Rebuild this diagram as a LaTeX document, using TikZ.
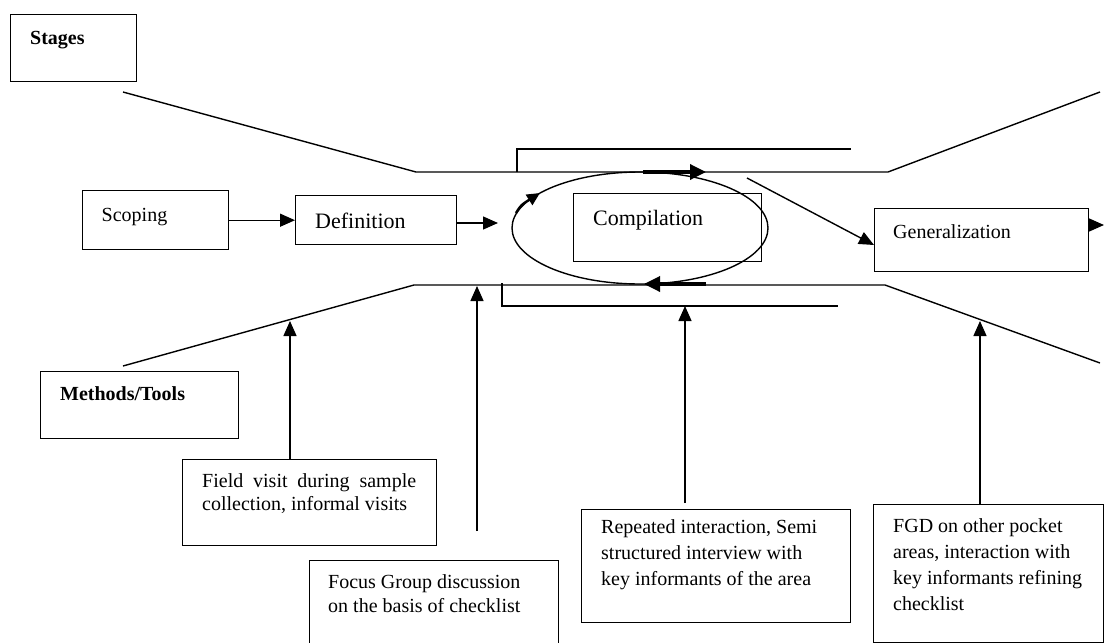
\documentclass[tikz,border=0pt]{standalone}
\usepackage{fontspec}
\setmainfont{Liberation Serif}
\usetikzlibrary{arrows.meta,shapes.geometric}
\begin{document}
\begin{tikzpicture}[x=1pt,y=-1pt,
  box/.style={draw, line width=1.4pt, inner sep=0pt, anchor=north west},
  lbl/.style={anchor=base west, inner sep=0pt, font=\fontsize{20}{24}\selectfont},
  biglbl/.style={anchor=base west, inner sep=0pt, font=\fontsize{22}{26}\selectfont},
  para/.style={anchor=north west, inner sep=0pt, align=left},
  ln/.style={line width=1.4pt},
  arr/.style={line width=1.4pt, -{Triangle[length=15pt,width=13pt]}},
  looparr/.style={line width=3.4pt, -{Triangle[length=16pt,width=15pt]}},
]
\useasboundingbox (0,0) rectangle (1104,643);
\clip (0,0) rectangle (1104,643);

% ---- boxes ----
\node[box, minimum width=126pt, minimum height=67pt] (stages) at (10,14) {};
\node[box, minimum width=146pt, minimum height=59pt] (scoping) at (82,190) {};
\node[box, minimum width=161pt, minimum height=49pt] (definition) at (295,195) {};
\node[draw, ellipse, line width=1.4pt, inner sep=0pt, minimum width=256pt, minimum height=112pt] (loop) at (640,228) {};
\node[box, minimum width=188pt, minimum height=68pt] (compilation) at (573,193) {};
\node[box, minimum width=214pt, minimum height=63pt] (general) at (874,208) {};
\node[box, minimum width=198pt, minimum height=67pt] (methods) at (40,371) {};
\node[box, minimum width=254pt, minimum height=86pt] (field) at (182,459) {};
\node[box, minimum width=249pt, minimum height=100pt] (focus) at (309,560) {};
\node[box, minimum width=269pt, minimum height=113pt] (repeated) at (581,509) {};
\node[box, minimum width=230pt, minimum height=138pt] (fgd) at (873,504) {};

% ---- texts ----
\node[lbl, font=\fontsize{20}{24}\selectfont\bfseries] (tstages) at (30,44) {Stages};
\node[lbl] (tscoping) at (101.5,221) {Scoping};
\node[biglbl] (tdefinition) at (315,228) {Definition};
\node[biglbl] (tcompilation) at (593,225) {Compilation};
\node[lbl] (tgeneral) at (893,238) {Generalization};
\node[lbl, font=\fontsize{20}{24}\selectfont\bfseries] (tmethods) at (60,400) {Methods/Tools};
\node[para, text width=214pt, align=justify, font=\fontsize{20}{23}\selectfont] (tfield) at (202,473.3)
  {Field visit during sample collection, informal visits};
\node[para, font=\fontsize{20}{24}\selectfont] (tfocus) at (328,574.3)
  {Focus Group discussion\\on the basis of checklist};
\node[para, font=\fontsize{20}{26}\selectfont] (trepeated) at (601,519.3)
  {Repeated interaction, Semi\\structured interview with\\key informants of the area};
\node[para, font=\fontsize{20}{26}\selectfont] (tfgd) at (893,518.3)
  {FGD on other pocket\\areas, interaction with\\key informants refining\\checklist};

% ---- funnel lines ----
\coordinate (tl) at (123,92);
\coordinate (tk1) at (416,172);
\coordinate (tk2) at (888,172);
\coordinate (tr) at (1100,92);
\coordinate (bl) at (123,366);
\coordinate (bk1) at (414,285);
\coordinate (bk2) at (885,285);
\coordinate (br) at (1100,363);
\draw[ln] (tl) -- (tk1) -- (tk2) -- (tr);
\draw[ln] (bl) -- (bk1) -- (bk2) -- (br);

% inner brackets
\coordinate (ib1) at (517,172);
\coordinate (ib2) at (517,149);
\coordinate (ib3) at (851,149);
\draw[ln] (ib1) -- (ib2) -- (ib3);
\coordinate (jb1) at (502,283);
\coordinate (jb2) at (502,306);
\coordinate (jb3) at (838,306);
\draw[ln] (jb1) -- (jb2) -- (jb3);

% ---- loop arrows ----
\coordinate (ta1) at (643,172);
\coordinate (ta2) at (706,172);
\draw[looparr] (ta1) -- (ta2);
\coordinate (ba1) at (706,284);
\coordinate (ba2) at (644,284);
\draw[looparr] (ba1) -- (ba2);
\coordinate (la1) at (516,213);
\coordinate (la2) at (540,193);
\draw[line width=2.4pt, -{Triangle[length=13pt,width=12pt]}] (la1) .. controls (521,205) .. (la2);

% ---- stage connectors ----
\draw[arr] (scoping) -- (definition);
\coordinate (dtip) at (498,223);
\draw[arr] (definition.east |- dtip) -- (dtip);
\coordinate (cstart) at (747,178);
\draw[arr] (cstart) -- (general.west |- 0,245);
\coordinate (gout) at (1104,225);
\draw[arr] (general.east |- gout) -- (gout);

% ---- method arrows ----
\coordinate (m1) at (290,321);
\draw[arr] (field.north -| m1) -- (m1);
\coordinate (m2s) at (477,531);
\coordinate (m2) at (477,286);
\draw[arr] (m2s) -- (m2);
\coordinate (m3s) at (685,503);
\coordinate (m3) at (685,306);
\draw[arr] (m3s) -- (m3);
\coordinate (m4) at (980,321);
\draw[arr] (fgd.north -| m4) -- (m4);
\end{tikzpicture}
\end{document}
